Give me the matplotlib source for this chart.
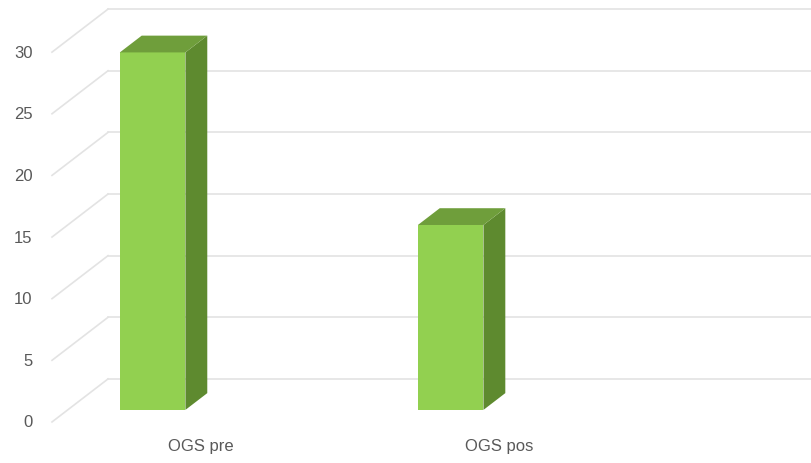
import matplotlib.pyplot as plt
from matplotlib.patches import Polygon

categories = ['OGS pre', 'OGS pos']
values = [29, 15]
yticks = [0, 5, 10, 15, 20, 25, 30]

# oblique projection for the fake 3D look (x in category units, y in value units)
DX, DY = 0.188, 3.49      # offset of the back wall from the front plane
D0, D1 = 0.28, 0.67       # depth range occupied by the bars
BAR_OFF, BAR_W = -0.325, 0.22

front = '#92D050'
top = '#6F9E3B'
side = '#5E8A2F'
grid = '#E3E3E3'
text = '#595959'

fig = plt.figure(figsize=(8.12, 4.64), dpi=100)
ax = fig.add_axes([0, 0, 1, 1])
ax.set_xlim(-0.6745, 2.050)
ax.set_ylim(-3.33, 34.31)
ax.axis('off')

x_left = -0.5
x_right = 2.1
for t in yticks:
    ax.plot([x_left, x_left + DX], [t, t + DY], color=grid, lw=1.2, zorder=1)
    ax.plot([x_left + DX, x_right], [t + DY, t + DY], color=grid, lw=1.2, zorder=1)
    ax.text(x_left - 0.065, t, str(t), ha='right', va='center',
            fontsize=12, color=text, family='Liberation Sans')


def shift(x, y, d):
    return x + DX * d, y + DY * d


for i, (cat, v) in enumerate(zip(categories, values)):
    x0 = i + BAR_OFF
    x1 = x0 + BAR_W
    # front face
    p = [shift(x0, 0, D0), shift(x1, 0, D0), shift(x1, v, D0), shift(x0, v, D0)]
    ax.add_patch(Polygon(p, closed=True, fc=front, ec='none', zorder=3))
    # right side face
    p = [shift(x1, 0, D0), shift(x1, 0, D1), shift(x1, v, D1), shift(x1, v, D0)]
    ax.add_patch(Polygon(p, closed=True, fc=side, ec='none', zorder=3))
    # top face
    p = [shift(x0, v, D0), shift(x1, v, D0), shift(x1, v, D1), shift(x0, v, D1)]
    ax.add_patch(Polygon(p, closed=True, fc=top, ec='none', zorder=3))

    ax.text(i, -1.95, cat, ha='center', va='center', fontsize=12,
            color=text, family='Liberation Sans')

fig.savefig('out.png', dpi=100)
